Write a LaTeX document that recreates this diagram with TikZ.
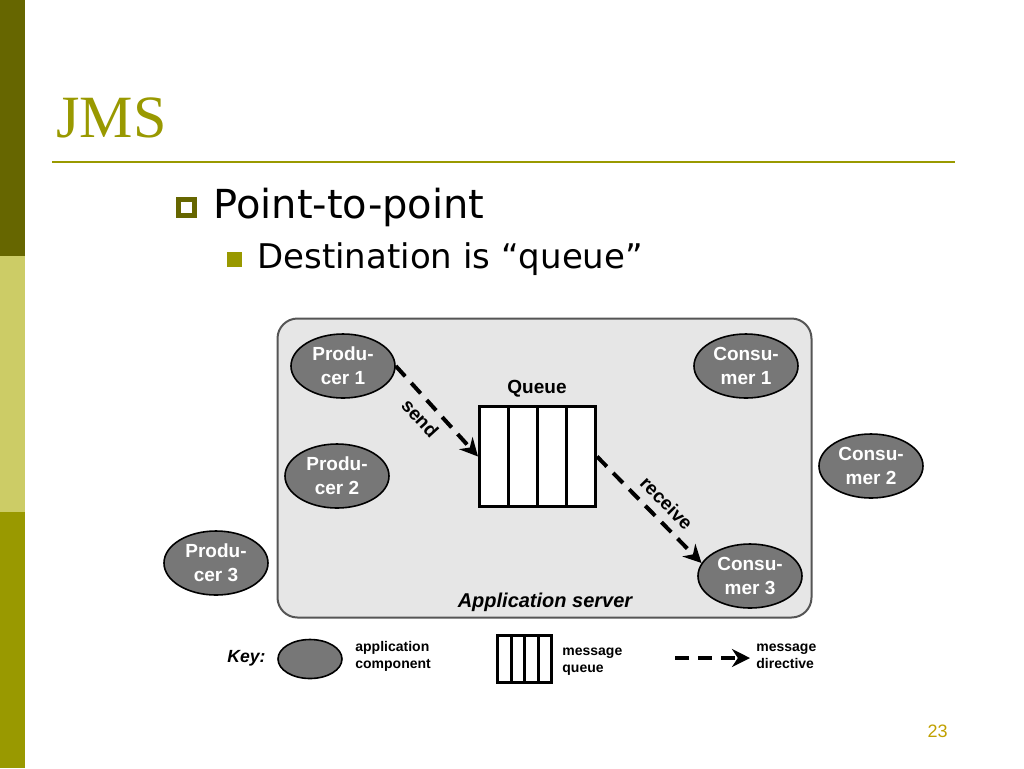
\documentclass[tikz,border=0pt]{standalone}
\usepackage{fontspec}
\setmainfont{Liberation Sans}
\newfontfamily\titlefont{Liberation Serif}
\newfontfamily\slidefont{DejaVu Sans}
\usetikzlibrary{shapes.geometric,arrows.meta,calc}
\definecolor{darkolive}{HTML}{666600}
\definecolor{midolive}{HTML}{999900}
\definecolor{paleolive}{HTML}{CCCC66}
\definecolor{servergray}{HTML}{E6E6E6}
\definecolor{serveredge}{HTML}{555555}
\definecolor{compgray}{HTML}{777777}
\definecolor{pagegold}{HTML}{C0A000}

\begin{document}
\begin{tikzpicture}[x=0.5pt,y=-0.5pt,
    comp/.style={ellipse, draw=black, line width=0.8pt, fill=compgray, inner sep=0pt,
        minimum width=52pt, minimum height=32pt, align=center, text=white,
        font=\fontsize{9.5}{12}\selectfont\bfseries},
    queuebox/.style={draw=black, line width=1.5pt, fill=white, inner sep=0pt,
        path picture={\foreach \f in {0.25,0.5,0.75}
            \draw[line width=1.5pt]
              ($(path picture bounding box.north west)!\f!(path picture bounding box.north east)$) --
              ($(path picture bounding box.south west)!\f!(path picture bounding box.south east)$);}},
    msg/.style={-{Stealth[length=9pt,width=9pt]}, line width=2pt, dash pattern=on 7pt off 4.5pt},
    msglabel/.style={font=\fontsize{9.5}{11}\selectfont\bfseries, inner sep=4pt},
    keytext/.style={font=\fontsize{7}{8.5}\selectfont\bfseries, align=left, inner sep=0pt, anchor=west}
]
        \useasboundingbox (0,0) rectangle (1024,768);

        \fill[darkolive] (0,0) rectangle (25,256);
        \fill[paleolive] (0,256) rectangle (25,512);
        \fill[midolive] (0,512) rectangle (25,768);

        \node[anchor=base west, inner sep=0pt, text=midolive, font=\titlefont\fontsize{30}{36}\selectfont] (title) at (56,137) {JMS};
        \draw[midolive, line width=1pt] (52,162) -- (955,162);

        \draw[darkolive, line width=2.5pt, fill=white] (178.5,199.5) rectangle (194.5,215.5);
        \node[anchor=base west, inner sep=0pt, font=\slidefont\fontsize{20}{24}\selectfont] (ptp) at (213,218) {Point-to-point};
        \fill[midolive] (227,252) rectangle (242,267);
        \node[anchor=base west, inner sep=0pt, font=\slidefont\fontsize{17}{20}\selectfont] (dest) at (257,268) {Destination is “queue”};

        \node[draw=serveredge, line width=1pt, fill=servergray, rounded corners=10pt,
            minimum width=267pt, minimum height=149.5pt] (server) at (544.5,468) {};
        \node[anchor=base, inner sep=0pt, font=\fontsize{10}{12}\selectfont\bfseries\itshape] (servername) at (545,607) {Application server};

        \node[queuebox, minimum width=58pt, minimum height=50pt] (queue) at (537.5,456.5) {};
        \node[anchor=base, inner sep=0pt, font=\fontsize{9.5}{12}\selectfont\bfseries] (queuename) at (537,393) {Queue};

        \node[comp] (prod1) at (343,366) {Produ-\\cer 1};
        \node[comp] (prod2) at (337,476) {Produ-\\cer 2};
        \node[comp] (prod3) at (216,563) {Produ-\\cer 3};
        \node[comp] (cons1) at (746,366) {Consu-\\mer 1};
        \node[comp] (cons2) at (871,466) {Consu-\\mer 2};
        \node[comp] (cons3) at (750,576) {Consu-\\mer 3};

        \draw[msg] (prod1.east) -- node[sloped, below, pos=0.45, msglabel] {send} (queue.west);
        \draw[msg] (queue.east) -- node[sloped, above, pos=0.55, msglabel] {receive} (cons3.165);

        \node[anchor=base west, inner sep=0pt, font=\fontsize{8.8}{10}\selectfont\bfseries\itshape] (key) at (227,662) {Key:};
        \node[comp, minimum width=32pt, minimum height=19.5pt] (keycomp) at (310,659) {};
        \node[keytext] (keycomptext) at (355,656) {application\\component};
        \node[keytext] (keyqueuetext) at (562,662) {message\\queue};
        \node[queuebox, minimum width=27pt, minimum height=23.5pt] (keyqueue) at (524.5,659) {};
        \coordinate (keyA) at (675,658);
        \coordinate (keyB) at (750,658);
        \draw[msg] (keyA) -- (keyB);
        \node[keytext] (keymsgtext) at (756,656) {message\\directive};

        \node[anchor=base east, inner sep=0pt, text=pagegold, font=\fontsize{9}{11}\selectfont] (pagenum) at (948,737) {23};
    \end{tikzpicture}
\end{document}
